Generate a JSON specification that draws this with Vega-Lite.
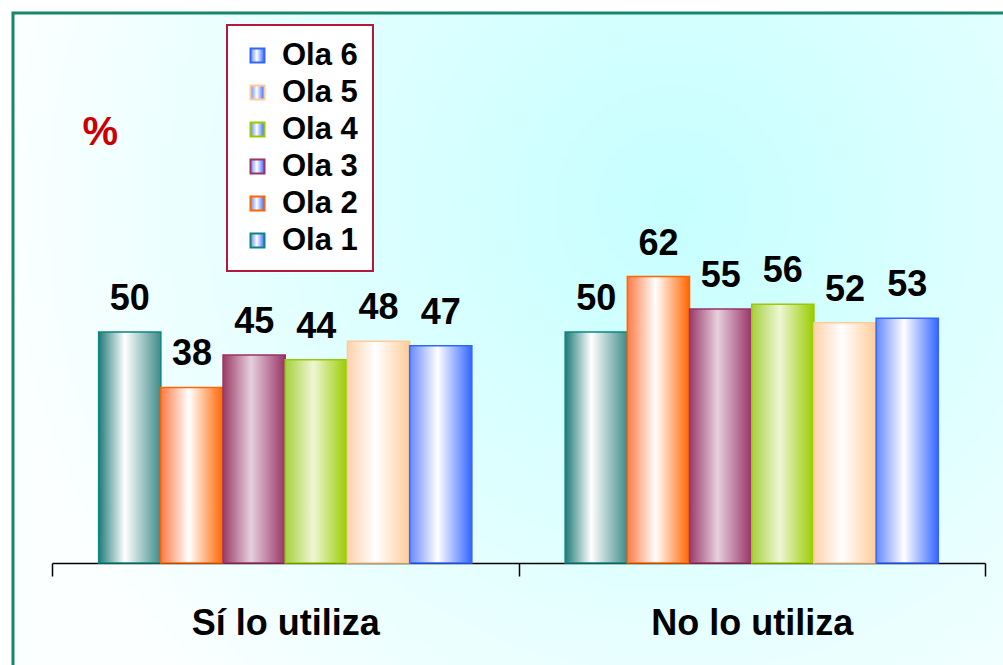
{
  "$schema": "https://vega.github.io/schema/vega-lite/v6.json",
  "width": 1000,
  "height": 662,
  "autosize": {"type": "none"},
  "padding": {"left": 13, "top": 13, "right": -10, "bottom": -10},
  "background": "#ffffff",
  "config": {
    "font": "Liberation Sans",
    "view": {
      "fill": {
        "gradient": "radial",
        "x1": 0.66, "y1": 0.36, "r1": 0,
        "x2": 0.66, "y2": 0.36, "r2": 0.68,
        "stops": [
          {"offset": 0, "color": "#c6ffff"},
          {"offset": 0.45, "color": "#dcffff"},
          {"offset": 1, "color": "#fbffff"}
        ]
      },
      "stroke": "#17876a",
      "strokeWidth": 3
    },
    "legend": {"strokeWidth": 2}
  },
  "data": {
    "values": [
      {"respuesta": "Sí lo utiliza", "ola": "Ola 1", "valor": 50},
      {"respuesta": "Sí lo utiliza", "ola": "Ola 2", "valor": 38},
      {"respuesta": "Sí lo utiliza", "ola": "Ola 3", "valor": 45},
      {"respuesta": "Sí lo utiliza", "ola": "Ola 4", "valor": 44},
      {"respuesta": "Sí lo utiliza", "ola": "Ola 5", "valor": 48},
      {"respuesta": "Sí lo utiliza", "ola": "Ola 6", "valor": 47},
      {"respuesta": "No lo utiliza", "ola": "Ola 1", "valor": 50},
      {"respuesta": "No lo utiliza", "ola": "Ola 2", "valor": 62},
      {"respuesta": "No lo utiliza", "ola": "Ola 3", "valor": 55},
      {"respuesta": "No lo utiliza", "ola": "Ola 4", "valor": 56},
      {"respuesta": "No lo utiliza", "ola": "Ola 5", "valor": 52},
      {"respuesta": "No lo utiliza", "ola": "Ola 6", "valor": 53}
    ]
  },
  "encoding": {
    "x": {
      "field": "respuesta",
      "type": "nominal",
      "sort": ["Sí lo utiliza", "No lo utiliza"],
      "scale": {"range": [39, 972], "paddingInner": 0, "paddingOuter": 0},
      "axis": {
        "title": null,
        "orient": "bottom",
        "offset": -112,
        "labelAngle": 0,
        "domainColor": "#000000",
        "domainWidth": 1.5,
        "tickBand": "extent",
        "tickSize": 13,
        "tickColor": "#000000",
        "tickWidth": 1.5,
        "labelFont": "Liberation Sans",
        "labelFontSize": 36,
        "labelFontWeight": "bold",
        "labelColor": "#000000",
        "labelBaseline": "alphabetic",
        "labelPadding": 58,
        "labelLimit": 400
      }
    },
    "xOffset": {
      "field": "ola",
      "type": "nominal",
      "scale": {"domain": ["Ola 1", "Ola 2", "Ola 3", "Ola 4", "Ola 5", "Ola 6"], "paddingInner": 0, "paddingOuter": 0.75}
    },
    "y": {
      "field": "valor",
      "type": "quantitative",
      "scale": {"domain": [0, 100], "range": [550, 88]},
      "axis": {
        "domain": false,
        "ticks": false,
        "labels": false,
        "grid": false,
        "title": "%",
        "titleAngle": 0,
        "titleColor": "#cc0000",
        "titleFont": "Liberation Sans",
        "titleFontSize": 40,
        "titleFontWeight": "bold",
        "titleAlign": "left",
        "titleBaseline": "alphabetic",
        "titleX": 69,
        "titleY": 131
      }
    }
  },
  "layer": [
    {
      "mark": {"type": "bar", "strokeWidth": 1.5},
      "encoding": {
        "fill": {
          "condition": [
            {"test": "datum.ola === 'Ola 1'", "value": {"gradient": "linear", "x1": 0, "y1": 0, "x2": 1, "y2": 0, "stops": [{"offset": 0, "color": "#1f7a78"}, {"offset": 0.42, "color": "#ffffff"}, {"offset": 1, "color": "#3f8b89"}]}},
            {"test": "datum.ola === 'Ola 2'", "value": {"gradient": "linear", "x1": 0, "y1": 0, "x2": 1, "y2": 0, "stops": [{"offset": 0, "color": "#ff7a45"}, {"offset": 0.45, "color": "#ffffff"}, {"offset": 1, "color": "#ff6600"}]}},
            {"test": "datum.ola === 'Ola 3'", "value": {"gradient": "linear", "x1": 0, "y1": 0, "x2": 1, "y2": 0, "stops": [{"offset": 0, "color": "#9a3a68"}, {"offset": 0.45, "color": "#e6d0de"}, {"offset": 1, "color": "#993366"}]}},
            {"test": "datum.ola === 'Ola 4'", "value": {"gradient": "linear", "x1": 0, "y1": 0, "x2": 1, "y2": 0, "stops": [{"offset": 0, "color": "#a6d040"}, {"offset": 0.45, "color": "#eef6d4"}, {"offset": 1, "color": "#99cc00"}]}},
            {"test": "datum.ola === 'Ola 5'", "value": {"gradient": "linear", "x1": 0, "y1": 0, "x2": 1, "y2": 0, "stops": [{"offset": 0, "color": "#ffd2ac"}, {"offset": 0.45, "color": "#ffffff"}, {"offset": 1, "color": "#ffcc99"}]}}
          ],
          "value": {"gradient": "linear", "x1": 0, "y1": 0, "x2": 1, "y2": 0, "stops": [{"offset": 0, "color": "#6688ff"}, {"offset": 0.45, "color": "#ffffff"}, {"offset": 1, "color": "#3366ff"}]}
        },
        "stroke": {
          "field": "ola",
          "type": "nominal",
          "scale": {
            "domain": ["Ola 1", "Ola 2", "Ola 3", "Ola 4", "Ola 5", "Ola 6"],
            "range": ["#0d8580", "#ff6600", "#993366", "#99cc00", "#ffcc99", "#3366ff"]
          },
          "legend": {
            "title": null,
            "orient": "none",
            "legendX": 214,
            "legendY": 12,
            "values": ["Ola 6", "Ola 5", "Ola 4", "Ola 3", "Ola 2", "Ola 1"],
            "symbolType": "square",
            "symbolSize": 196,
            "symbolStrokeWidth": 2,
            "symbolOffset": 0,
            "labelOffset": 9,
            "labelFont": "Liberation Sans",
            "labelFontSize": 31,
            "labelFontWeight": "bold",
            "labelColor": "#000000",
            "rowPadding": 5,
            "padding": 15,
            "fillColor": "#ffffff",
            "strokeColor": "#b5183b",
            "encode": {
              "symbols": {
                "update": {
                  "fill": {"scale": "stroke", "field": "value"},
                  "fillOpacity": {"value": 0.35}
                }
              }
            }
          }
        }
      }
    },
    {
      "mark": {
        "type": "text",
        "dy": -22,
        "baseline": "alphabetic",
        "align": "center",
        "font": "Liberation Sans",
        "fontSize": 36,
        "fontWeight": "bold",
        "color": "#000000"
      },
      "encoding": {"text": {"field": "valor", "type": "quantitative"}}
    }
  ]
}
